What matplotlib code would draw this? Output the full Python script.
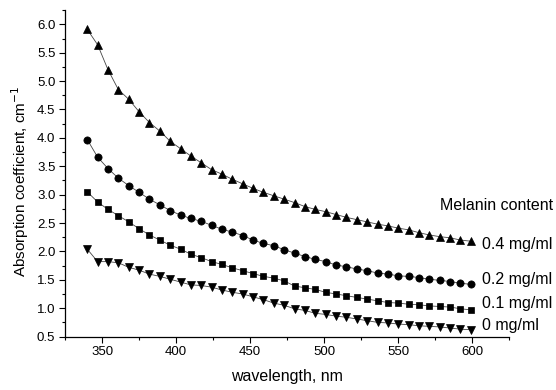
import numpy as np
import matplotlib
matplotlib.use("Agg")
import matplotlib.pyplot as plt
from matplotlib.ticker import MultipleLocator, FormatStrFormatter

plt.rcParams['font.family'] = ['Liberation Sans', 'DejaVu Sans']

wavelength = [340 + 7 * i for i in range(38)]

mel_04 = [5.91, 5.64, 5.20, 4.85, 4.68, 4.46, 4.27, 4.12, 3.94, 3.81, 3.68, 3.56, 3.44, 3.36, 3.27, 3.19,
          3.11, 3.04, 2.98, 2.92, 2.86, 2.79, 2.74, 2.70, 2.65, 2.60, 2.56, 2.52, 2.48, 2.45, 2.41, 2.38,
          2.33, 2.29, 2.26, 2.24, 2.20, 2.18]
mel_02 = [3.97, 3.66, 3.46, 3.29, 3.16, 3.04, 2.92, 2.82, 2.72, 2.64, 2.58, 2.53, 2.46, 2.39, 2.34, 2.28,
          2.20, 2.14, 2.10, 2.03, 1.97, 1.91, 1.86, 1.82, 1.76, 1.73, 1.69, 1.66, 1.62, 1.60, 1.57, 1.56,
          1.54, 1.51, 1.49, 1.47, 1.44, 1.42]
mel_01 = [3.05, 2.87, 2.74, 2.63, 2.52, 2.40, 2.29, 2.20, 2.11, 2.04, 1.95, 1.89, 1.82, 1.77, 1.71, 1.66,
          1.61, 1.56, 1.53, 1.48, 1.39, 1.36, 1.33, 1.28, 1.25, 1.22, 1.19, 1.16, 1.13, 1.10, 1.09, 1.07,
          1.06, 1.04, 1.03, 1.02, 0.99, 0.97]
mel_00 = [2.04, 1.82, 1.82, 1.80, 1.72, 1.67, 1.60, 1.56, 1.51, 1.46, 1.41, 1.40, 1.37, 1.32, 1.28, 1.25,
          1.20, 1.15, 1.09, 1.05, 0.99, 0.96, 0.91, 0.89, 0.86, 0.84, 0.81, 0.78, 0.75, 0.74, 0.72, 0.71,
          0.69, 0.68, 0.67, 0.65, 0.63, 0.62]

series_labels = ["0.4 mg/ml", "0.2 mg/ml", "0.1 mg/ml", "0 mg/ml"]
legend_title = "Melanin content"
x_ticks = [350, 400, 450, 500, 550, 600]

fig = plt.figure(figsize=(5.56, 3.90), dpi=100)
ax = fig.add_axes([0.117, 0.137, 0.799, 0.837])

specs = [(mel_04, '^', 6.2), (mel_02, 'o', 5.2), (mel_01, 's', 4.3), (mel_00, 'v', 6.2)]
for vals, mk, ms in specs:
    ax.plot(wavelength, vals, color='#444444', lw=0.6, ls='-', marker=mk, ms=ms,
            mfc='black', mec='black', mew=0.5)

ax.set_xlim(325, 625)
ax.set_ylim(0.5, 6.25)
ax.set_xticks(x_ticks)
ax.xaxis.set_minor_locator(MultipleLocator(25))
ax.yaxis.set_major_locator(MultipleLocator(0.5))
ax.yaxis.set_minor_locator(MultipleLocator(0.25))
ax.yaxis.set_major_formatter(FormatStrFormatter('%.1f'))
ax.tick_params(axis='both', which='major', direction='out', length=4, width=0.8, labelsize=9.5, pad=3)
ax.tick_params(axis='both', which='minor', direction='out', length=2.5, width=0.8)
for s in ['top', 'right']:
    ax.spines[s].set_visible(False)
ax.spines['left'].set_linewidth(0.9)
ax.spines['bottom'].set_linewidth(0.9)

ax.set_xlabel("wavelength, nm", fontsize=11.5, labelpad=8)
ax.set_ylabel("Absorption coefficient, cm$^{-1}$", fontsize=11)
ax.yaxis.set_label_coords(-0.077, 0.477)

# text annotations
tx = 606.5
ax.text(tx, 2.13, series_labels[0], fontsize=11.5, va='center', ha='left', clip_on=False)
ax.text(tx, 1.50, series_labels[1], fontsize=11.5, va='center', ha='left', clip_on=False)
ax.text(tx, 1.08, series_labels[2], fontsize=11.5, va='center', ha='left', clip_on=False)
ax.text(tx, 0.69, series_labels[3], fontsize=11.5, va='center', ha='left', clip_on=False)
ax.text(578.5, 2.80, legend_title, fontsize=11.5, va='center', ha='left', clip_on=False)

fig.savefig("out.png", dpi=100)
